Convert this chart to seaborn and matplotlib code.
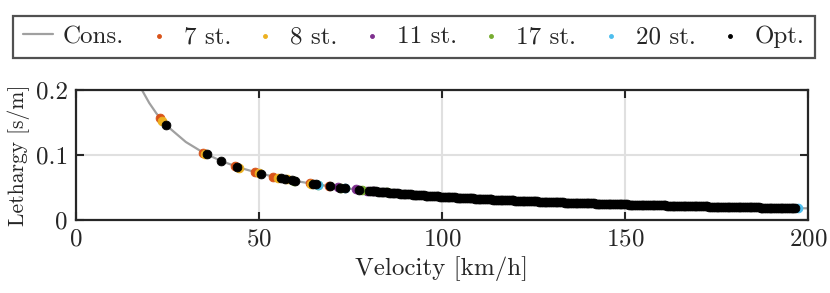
"""
Lethargy vs velocity: constant-speed curve plus station solutions.
"""

import matplotlib

matplotlib.use("Agg")
import matplotlib.pyplot as plt
import numpy as np
import pandas as pd
import seaborn as sns

# -----------------------------------------------------------------------------
# Data (velocity in km/h, lethargy = 1/v in s/m)
# -----------------------------------------------------------------------------
cons_velocity = [15, 18, 20, 22, 25, 30, 35, 40, 45, 50, 55, 60, 65, 70, 75,
                 80, 90, 100, 110, 120, 130, 140, 150, 160, 170, 180, 190, 200]

st7_velocity = [23.0, 34.7, 43.3, 48.9, 53.9, 63.8, 69.0]
st8_velocity = [23.6, 35.2, 44.6, 50.0, 55.2, 57.6, 64.3]
st11_velocity = [71.6, 76.5, 79.5, 81.0]
st17_velocity = [59.5, 66.0, 72.5, 78.0, 85.0]
st20_velocity = [66.2, 73.5, 197.3]

opt_velocity = [
    24.7, 35.7, 39.5, 44.0, 50.5, 56.0, 57.0, 59.0, 59.9, 64.8, 65.6, 69.4,
    72.0, 73.5, 77.3,
    80.0, 80.5, 81.0, 81.5, 82.0, 82.5, 83.0, 83.5, 84.0, 84.5, 85.0, 85.5,
    86.0, 86.5, 87.0, 87.5, 88.0, 88.5, 89.0, 89.5, 90.0, 90.5, 91.0, 91.5,
    92.0, 92.5, 93.0, 93.5, 94.0, 94.5, 95.0, 95.5, 96.0, 96.5, 97.0, 97.5,
    98.0, 98.5, 99.0, 99.5, 100.0, 100.5, 101.0, 101.5, 102.0, 102.5, 103.0,
    103.5, 104.0, 104.5, 105.0, 105.5, 106.0, 106.5, 107.0, 107.5, 108.0,
    108.5, 109.0, 109.5, 110.0, 110.5, 111.0, 111.5, 112.0, 112.5, 113.0,
    113.5, 114.0, 114.5, 115.0, 115.5, 116.0, 116.5, 117.0, 117.5, 118.0,
    118.5, 119.0, 119.5, 120.0, 120.5, 121.0, 121.5, 122.0, 122.5, 123.0,
    123.5, 124.0, 124.5, 125.0, 125.5, 126.0, 126.5, 127.0, 127.5, 128.0,
    128.5, 129.0, 129.5, 130.0, 130.5, 131.0, 131.5, 132.0, 132.5, 133.0,
    133.5, 134.0, 134.5, 135.0, 135.5, 136.0, 136.5, 137.0, 137.5, 138.0,
    138.5, 139.0, 139.5, 140.0, 140.5, 141.0, 141.5, 142.0, 142.5, 143.0,
    143.5, 144.0, 144.5, 145.0, 145.5, 146.0, 146.5, 147.0, 147.5, 148.0,
    148.5, 149.0, 149.5, 150.0, 150.5, 151.0, 151.5, 152.0, 152.5, 153.0,
    153.5, 154.0, 154.5, 155.0, 155.5, 156.0, 156.5, 157.0, 157.5, 158.0,
    158.5, 159.0, 159.5, 160.0, 160.5, 161.0, 161.5, 162.0, 162.5, 163.0,
    163.5, 164.0, 164.5, 165.0, 165.5, 166.0, 166.5, 167.0, 167.5, 168.0,
    168.5, 169.0, 169.5, 170.0, 170.5, 171.0, 171.5, 172.0, 172.5, 173.0,
    173.5, 174.0, 174.5, 175.0, 175.5, 176.0, 176.5, 177.0, 177.5, 178.0,
    178.5, 179.0, 179.5, 180.0, 180.5, 181.0, 181.5, 182.0, 182.5, 183.0,
    183.5, 184.0, 184.5, 185.0, 185.5, 186.0, 186.5, 187.0, 187.5, 188.0,
    188.5, 189.0, 189.5, 190.0, 190.5, 191.0, 191.5, 192.0, 192.5, 193.0,
    193.5, 194.0, 194.5, 195.0, 195.5, 196.0, 196.4,
]

series_labels = ["7 st.", "8 st.", "11 st.", "17 st.", "20 st.", "Opt."]
series_colors = ["#D95319", "#EDB120", "#7E2F8E", "#77AC30", "#4DBEEE", "#000000"]

x_ticks = [0, 50, 100, 150, 200]
y_ticks = [0, 0.1, 0.2]
y_tick_labels = ["0", "0.1", "0.2"]


def to_lethargy(v_kmh):
    """km/h -> s/m"""
    return 3.6 / np.asarray(v_kmh, dtype=float)


# -----------------------------------------------------------------------------
# Style
# -----------------------------------------------------------------------------
sns.set_theme(style="whitegrid")
plt.rcParams["font.family"] = ["cmr10", "DejaVu Serif"]
plt.rcParams["mathtext.fontset"] = "cm"
plt.rcParams["axes.unicode_minus"] = False
plt.rcParams["axes.formatter.use_mathtext"] = True

FS = 18

fig = plt.figure(figsize=(8.3, 2.93), dpi=100)
ax = fig.add_axes([0.0916, 0.249, 0.882, 0.444])

cons_df = pd.DataFrame({"v": cons_velocity, "L": to_lethargy(cons_velocity)})
sns.lineplot(data=cons_df, x="v", y="L", ax=ax, color="#a0a0a0",
             linewidth=1.6, label="Cons.", zorder=2)

point_sets = [st7_velocity, st8_velocity, st11_velocity, st17_velocity,
              st20_velocity, opt_velocity]
for vel, lab, col in zip(point_sets, series_labels, series_colors):
    df = pd.DataFrame({"v": vel, "L": to_lethargy(vel)})
    sns.scatterplot(data=df, x="v", y="L", ax=ax, color=col, s=40,
                    edgecolor=col, linewidth=0.6, label=lab, zorder=3)

# no pixel snapping, so the dense band stays smooth
for coll in ax.collections:
    coll.set_snap(False)

ax.set_xlim(0, 200)
ax.set_ylim(0, 0.2)
ax.set_xticks(x_ticks)
ax.set_yticks(y_ticks)
ax.set_yticklabels(y_tick_labels)
ax.set_xlabel("Velocity [km/h]", fontsize=FS, labelpad=4)
ax.set_ylabel("Lethargy [s/m]", fontsize=15.5, labelpad=4)
ax.tick_params(axis="both", labelsize=FS, direction="in", length=6,
               width=1.5, color="#262626", top=True, right=True,
               bottom=True, left=True, pad=6)
ax.grid(True, color="#e0e0e0", linewidth=1.5)
ax.set_axisbelow(True)
for sp in ax.spines.values():
    sp.set_visible(True)
    sp.set_color("#262626")
    sp.set_linewidth(1.6)

handles, labels = ax.get_legend_handles_labels()
ax.get_legend().remove()
leg = fig.legend(handles, labels, ncol=7, mode="expand",
                 bbox_to_anchor=(0.0157, 0.802, 0.966, 0.13),
                 loc="lower left", fontsize=FS, frameon=True, fancybox=False,
                 markerscale=0.45, handlelength=1.2, handletextpad=0.4,
                 borderaxespad=0, columnspacing=0.5)
leg.get_frame().set_edgecolor("#262626")
leg.get_frame().set_linewidth(1.6)

fig.savefig("out.png", dpi=100)
plt.close(fig)
